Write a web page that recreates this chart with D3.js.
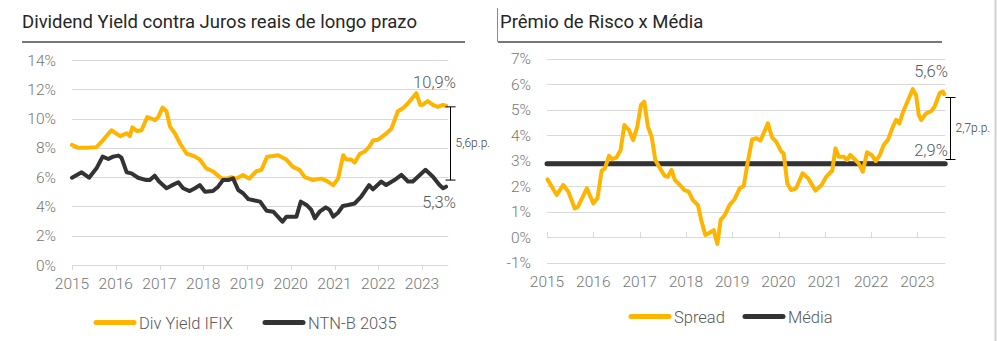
<html>
<head>
<meta charset="utf-8">
<style>
  body { margin: 0; background: #fff; }
  text { font-family: Roboto, "Noto Sans", sans-serif; }
</style>
</head>
<body>
<svg width="997" height="341"></svg>
<script src="https://d3js.org/d3.v7.min.js"></script>
<script>
// values, [year, %]
var years = [2015, 2016, 2017, 2018, 2019, 2020, 2021, 2022, 2023]

var divYield = [
  [2015.0,8.2],[2015.14,8.0],[2015.35,8.0],[2015.56,8.05],[2015.7,8.5],[2015.9,9.2],[2016.1,8.8],[2016.25,9.0],
  [2016.32,8.8],[2016.38,9.4],[2016.48,9.15],[2016.59,9.2],[2016.72,10.1],[2016.9,9.9],[2016.97,10.1],[2017.07,10.75],
  [2017.16,10.5],[2017.24,9.45],[2017.35,9.0],[2017.47,8.3],[2017.62,7.6],[2017.73,7.5],[2017.81,7.4],[2017.92,7.2],
  [2018.07,6.6],[2018.22,6.4],[2018.42,5.9],[2018.53,5.9],[2018.64,6.0],[2018.76,5.9],[2018.91,6.15],[2019.05,5.9],
  [2019.21,6.4],[2019.33,6.5],[2019.46,7.4],[2019.6,7.45],[2019.71,7.5],[2019.9,7.2],[2020.05,6.7],[2020.2,6.5],
  [2020.32,6.0],[2020.51,5.8],[2020.7,5.9],[2020.82,5.75],[2020.97,5.45],[2021.08,5.9],[2021.2,7.5],[2021.27,7.2],
  [2021.38,7.2],[2021.46,7.0],[2021.58,7.6],[2021.69,7.75],[2021.8,8.1],[2021.88,8.5],[2021.99,8.55],[2022.15,8.9],
  [2022.3,9.3],[2022.45,10.5],[2022.56,10.7],[2022.68,11.05],[2022.87,11.73],[2022.96,10.93],[2023.02,10.95],
  [2023.13,11.2],[2023.25,10.93],[2023.36,10.8],[2023.48,10.93],[2023.55,10.88]
]

var ntnb = [
  [2015.0,5.96],[2015.22,6.33],[2015.39,5.96],[2015.56,6.6],[2015.7,7.4],[2015.83,7.24],[2015.94,7.4],[2016.06,7.47],
  [2016.13,7.33],[2016.25,6.33],[2016.36,6.26],[2016.51,5.96],[2016.7,5.8],[2016.78,5.8],[2016.89,6.1],[2016.99,5.7],
  [2017.16,5.24],[2017.27,5.42],[2017.43,5.65],[2017.54,5.24],[2017.69,5.05],[2017.81,5.24],[2017.92,5.46],[2018.04,5.0],
  [2018.22,5.05],[2018.34,5.35],[2018.45,5.8],[2018.57,5.8],[2018.68,5.92],[2018.8,5.12],[2018.91,4.9],[2019.03,4.5],
  [2019.18,4.4],[2019.3,4.33],[2019.45,3.7],[2019.6,3.64],[2019.81,2.96],[2019.9,3.3],[2020.13,3.3],[2020.23,4.33],
  [2020.36,4.1],[2020.47,3.76],[2020.55,3.19],[2020.66,3.64],[2020.8,3.94],[2020.89,3.76],[2020.97,3.3],[2021.08,3.57],
  [2021.19,4.03],[2021.31,4.1],[2021.46,4.2],[2021.61,4.67],[2021.79,5.46],[2021.88,5.17],[2022.07,5.7],[2022.18,5.46],
  [2022.37,5.8],[2022.53,6.15],[2022.68,5.7],[2022.79,5.7],[2022.95,6.15],[2023.08,6.5],[2023.25,6.03],[2023.4,5.46],
  [2023.48,5.24],[2023.55,5.35]
]

var spread = [
  [2015.01,2.26],[2015.21,1.65],[2015.35,2.04],[2015.46,1.78],[2015.6,1.12],[2015.67,1.19],[2015.86,1.91],[2016.0,1.32],
  [2016.09,1.52],[2016.18,2.6],[2016.25,2.69],[2016.34,3.18],[2016.41,3.05],[2016.5,3.12],[2016.59,3.41],[2016.67,4.39],
  [2016.77,4.2],[2016.86,3.8],[2016.95,4.33],[2017.03,5.18],[2017.1,5.31],[2017.18,4.33],[2017.26,3.93],[2017.34,3.02],
  [2017.46,2.63],[2017.54,2.4],[2017.61,2.36],[2017.69,2.63],[2017.76,2.24],[2017.87,2.04],[2017.97,1.84],[2018.06,1.78],
  [2018.15,1.45],[2018.26,1.25],[2018.33,0.67],[2018.42,0.08],[2018.47,0.12],[2018.6,0.27],[2018.68,-0.27],[2018.75,0.67],
  [2018.84,0.86],[2018.94,1.25],[2019.05,1.48],[2019.16,1.91],[2019.25,2.0],[2019.33,2.89],[2019.43,3.83],[2019.52,3.87],
  [2019.61,3.78],[2019.68,4.07],[2019.77,4.46],[2019.86,3.91],[2019.95,3.74],[2020.06,3.35],[2020.11,3.28],[2020.19,2.1],
  [2020.27,1.84],[2020.38,1.91],[2020.52,2.5],[2020.64,2.3],[2020.8,1.82],[2020.93,2.04],[2021.03,2.36],[2021.1,2.5],
  [2021.16,2.6],[2021.23,3.48],[2021.3,3.15],[2021.41,3.15],[2021.48,3.02],[2021.55,3.22],[2021.66,3.02],[2021.73,2.89],
  [2021.82,2.56],[2021.91,3.32],[2022.01,3.22],[2022.1,2.98],[2022.19,3.22],[2022.27,3.61],[2022.36,3.8],[2022.47,4.33],
  [2022.54,4.59],[2022.61,4.46],[2022.69,4.91],[2022.8,5.37],[2022.9,5.8],[2022.97,5.57],[2023.03,4.78],[2023.08,4.59],
  [2023.19,4.85],[2023.3,4.94],[2023.37,5.11],[2023.48,5.64],[2023.55,5.7],[2023.58,5.6]
]

var media = 2.87
var leftTicks = [0, 2, 4, 6, 8, 10, 12, 14]
var rightTicks = [-1, 0, 1, 2, 3, 4, 5, 6, 7]

var yellow = '#FFB400'
var dark = '#333333'
var grey = '#767676'

var svg = d3.select('svg')

// panel frames
svg.append('line').attr('x1', 497.5).attr('x2', 497.5).attr('y1', 8).attr('y2', 42)
  .attr('stroke', '#8a8a8a').attr('stroke-width', 1)
svg.append('line').attr('x1', 995.5).attr('x2', 995.5).attr('y1', 0).attr('y2', 341)
  .attr('stroke', '#d0d0d0').attr('stroke-width', 2)

function pct(v) { return v + '%' }

function drawPanel(opt) {
  var g = svg.append('g')
  var x = d3.scaleLinear().domain([2015, 2023.6]).range(opt.xr)
  var y = d3.scaleLinear().domain(opt.yd).range(opt.yr)

  g.append('text').attr('x', opt.titleX).attr('y', 28)
    .attr('font-size', 18.5).attr('fill', '#262626').text(opt.title)
  g.append('line').attr('x1', opt.ruleX[0]).attr('x2', opt.ruleX[1]).attr('y1', 42).attr('y2', 42)
    .attr('stroke', '#777').attr('stroke-width', 2)

  // grid
  g.selectAll('.grid').data(opt.yTicks).enter().append('line')
    .attr('x1', opt.xr[0]).attr('x2', opt.xr[1])
    .attr('y1', function (d) { return Math.round(y(d)) + 0.5 })
    .attr('y2', function (d) { return Math.round(y(d)) + 0.5 })
    .attr('stroke', '#d9d9d9').attr('stroke-width', 1)

  g.selectAll('.ylab').data(opt.yTicks).enter().append('text')
    .attr('x', opt.xr[0] - 16).attr('y', function (d) { return y(d) + 5.5 })
    .attr('text-anchor', 'end').attr('font-size', 15.5).attr('font-weight', 300).attr('fill', grey)
    .text(pct)

  // year ticks on the zero line
  g.selectAll('.xt').data(years).enter().append('line')
    .attr('x1', function (d) { return Math.round(x(d)) + 0.5 })
    .attr('x2', function (d) { return Math.round(x(d)) + 0.5 })
    .attr('y1', y(0)).attr('y2', y(0) + opt.tickDir * 5)
    .attr('stroke', '#d9d9d9')

  g.selectAll('.xlab').data(years).enter().append('text')
    .attr('x', function (d) { return x(d) }).attr('y', opt.xLabY)
    .attr('text-anchor', 'middle').attr('font-size', 15.5).attr('font-weight', 300).attr('fill', grey)
    .text(function (d) { return d })

  var line = d3.line().x(function (d) { return x(d[0]) }).y(function (d) { return y(d[1]) })
  opt.series.forEach(function (s) {
    g.append('path').datum(s.data).attr('d', line)
      .attr('fill', 'none').attr('stroke', s.color).attr('stroke-width', s.width || 4)
      .attr('stroke-linejoin', 'round').attr('stroke-linecap', 'round')
  })

  // legend
  opt.legend.forEach(function (l) {
    g.append('line').attr('x1', l.x).attr('x2', l.x + 38).attr('y1', opt.legY).attr('y2', opt.legY)
      .attr('stroke', l.color).attr('stroke-width', 5).attr('stroke-linecap', 'round')
    g.append('text').attr('x', l.x + 43).attr('y', opt.legY + 6)
      .attr('font-size', 16.5).attr('font-weight', 300).attr('fill', '#595959').text(l.label)
  })

  // bracket annotation
  var b = opt.bracket
  var by1 = y(b.from), by2 = y(b.to)
  g.append('line').attr('x1', b.x).attr('x2', b.x).attr('y1', by1).attr('y2', by2).attr('stroke', '#000')
  g.append('line').attr('x1', b.x - 5).attr('x2', b.x + 5).attr('y1', by1).attr('y2', by1).attr('stroke', '#000')
  g.append('line').attr('x1', b.x - 5).attr('x2', b.x + 5).attr('y1', by2).attr('y2', by2).attr('stroke', '#000')
  g.append('text').attr('x', b.x + 5).attr('y', (by1 + by2) / 2 + 4)
    .attr('font-size', 12).attr('font-weight', 300).attr('fill', '#404040').text(b.label)

  opt.notes.forEach(function (n) {
    g.append('text').attr('x', n.x).attr('y', n.y)
      .attr('text-anchor', 'middle').attr('font-size', 16.5).attr('font-weight', 300)
      .attr('fill', '#595959').text(n.text)
  })
}

drawPanel({
  title: 'Dividend Yield contra Juros reais de longo prazo',
  titleX: 22, ruleX: [22, 465],
  xr: [72, 448.25], yd: [0, 14], yr: [265, 60],
  yTicks: leftTicks, tickDir: 1, xLabY: 289,
  series: [
    { data: divYield, color: yellow },
    { data: ntnb, color: dark }
  ],
  legY: 322.5,
  legend: [
    { x: 96, color: yellow, label: 'Div Yield IFIX' },
    { x: 265, color: dark, label: 'NTN-B 2035' }
  ],
  bracket: { x: 450.5, from: 10.8, to: 5.8, label: '5,6p.p.' },
  notes: [
    { x: 434.5, y: 88, text: '10,9%' },
    { x: 439, y: 208, text: '5,3%' }
  ]
})

var mediaLine = [[2015, media], [2023.6, media]]

drawPanel({
  title: 'Prêmio de Risco x Média',
  titleX: 500, ruleX: [498, 942],
  xr: [547, 945.2], yd: [-1, 7], yr: [262.5, 58.5],
  yTicks: rightTicks, tickDir: -1, xLabY: 287,
  series: [
    { data: mediaLine, color: dark, width: 5 },
    { data: spread, color: yellow }
  ],
  legY: 316.5,
  legend: [
    { x: 631, color: yellow, label: 'Spread' },
    { x: 745, color: dark, label: 'Média' }
  ],
  bracket: { x: 950.5, from: 5.47, to: 3.04, label: '2,7p.p.' },
  notes: [
    { x: 931, y: 77, text: '5,6%' },
    { x: 931, y: 156, text: '2,9%' }
  ]
})
</script>
</body>
</html>
